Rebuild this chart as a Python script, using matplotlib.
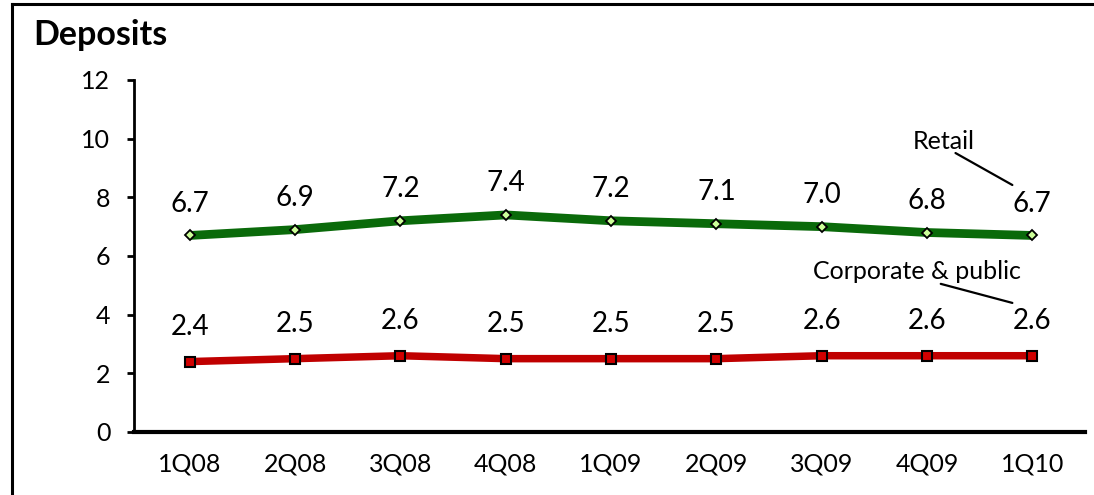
import matplotlib
matplotlib.use("Agg")
import matplotlib.pyplot as plt
from matplotlib.lines import Line2D

quarters = ["1Q08", "2Q08", "3Q08", "4Q08", "1Q09", "2Q09", "3Q09", "4Q09", "1Q10"]
retail = [6.7, 6.9, 7.2, 7.4, 7.2, 7.1, 7.0, 6.8, 6.7]
corporate = [2.4, 2.5, 2.6, 2.5, 2.5, 2.5, 2.6, 2.6, 2.6]
y_ticks = [0, 2, 4, 6, 8, 10, 12]

plt.rcParams["font.family"] = ["Lato", "DejaVu Sans"]

fig = plt.figure(figsize=(10.94, 4.95), dpi=100)
ax = fig.add_axes([0.1225, 0.1273, 0.8693, 0.7111])

x = list(range(len(quarters)))

ax.plot(x, retail, color="#0a6a0a", linewidth=6.3, solid_capstyle="butt",
        marker="D", markersize=5.5, markerfacecolor="#ccff99",
        markeredgecolor="black", markeredgewidth=1.3, zorder=3)
ax.plot(x, corporate, color="#c00000", linewidth=5.4, solid_capstyle="butt",
        marker="s", markersize=7.5, markerfacecolor="#d00000",
        markeredgecolor="black", markeredgewidth=1.5, zorder=3)

for xi, v in zip(x, retail):
    ax.annotate(f"{v:.1f}", (xi, v), xytext=(0, 23), textcoords="offset points",
                ha="center", va="center", fontsize=20)
for xi, v in zip(x, corporate):
    ax.annotate(f"{v:.1f}", (xi, v), xytext=(0, 25), textcoords="offset points",
                ha="center", va="center", fontsize=20)

# series name callouts
ax.text(7.16, 9.89, "Retail", ha="center", va="center", fontsize=18)
ax.annotate("", xy=(7.81, 8.42), xytext=(7.27, 9.51),
            arrowprops=dict(arrowstyle="-", color="black", lw=1.6,
                            shrinkA=0, shrinkB=0))
ax.text(6.90, 5.46, "Corporate & public", ha="center", va="center", fontsize=18)
ax.annotate("", xy=(7.81, 4.40), xytext=(7.13, 5.05),
            arrowprops=dict(arrowstyle="-", color="black", lw=1.6,
                            shrinkA=0, shrinkB=0))

ax.set_xlim(-0.53, 8.5)
ax.set_ylim(0, 12)
ax.set_yticks(y_ticks)
ax.set_xticks(x)
ax.set_xticklabels(quarters)

ax.spines["top"].set_visible(False)
ax.spines["right"].set_visible(False)
ax.spines["left"].set_linewidth(2)
ax.spines["bottom"].set_linewidth(3)
ax.tick_params(axis="y", length=5, width=2, pad=12, labelsize=18)
ax.tick_params(axis="x", length=0, pad=15, labelsize=18)

fig.text(0.03, 0.93, "Deposits", fontsize=24.5, fontweight="bold", ha="left", va="center")

# outer frame
fig.add_artist(Line2D([12 / 1094, 12 / 1094], [0, 1 - 4 / 495], transform=fig.transFigure,
                      color="black", linewidth=2.2))
fig.add_artist(Line2D([12 / 1094, 1], [1 - 4 / 495, 1 - 4 / 495], transform=fig.transFigure,
                      color="black", linewidth=2.2))

fig.savefig("out.png", dpi=100)
